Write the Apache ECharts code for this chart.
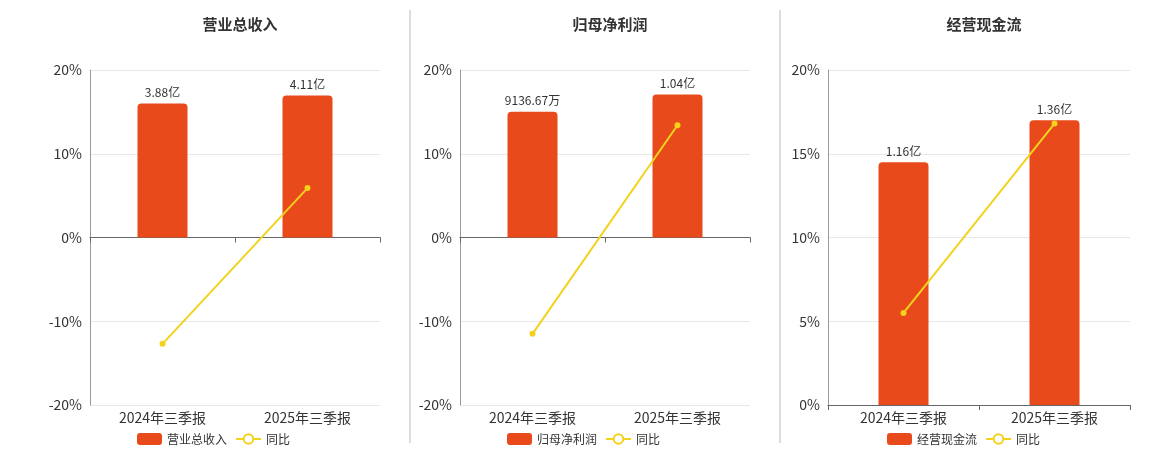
<!DOCTYPE html>
<html><head><meta charset="utf-8">
<script src="https://cdn.jsdelivr.net/npm/echarts@6/dist/echarts.min.js"></script>
<style>body{margin:0}#c{width:1160px;height:450px}</style></head>
<body><div id="c"></div>
<script>
const categories = ['2024年三季报','2025年三季报'];
const titles = ['营业总收入','归母净利润','经营现金流'];
const barValues = [[3.88,4.11],[0.913667,1.04],[1.16,1.36]];
const barLabels = [['3.88亿','4.11亿'],['9136.67万','1.04亿'],['1.16亿','1.36亿']];
const yoyValues = [[-12.7,5.9],[-11.5,13.4],[5.5,16.8]];
const yRanges = [[-20,20,10],[-20,20,10],[0,20,5]];
const barRanges = [[-4.85,4.85],[-1.218,1.218],[0,1.6]];
const lefts=[90,460,828], rights=[780,410,30];
const font='"Noto Sans CJK SC", sans-serif';
const opt={title:[],grid:[],xAxis:[],yAxis:[],series:[],legend:[],graphic:[]};
for(let i=0;i<3;i++){
  const cx=[235,605,979][i];
  opt.title.push({text:titles[i],left:cx,top:12,textAlign:'center',textStyle:{fontSize:15,fontWeight:'bold',color:'#333',fontFamily:font}});
  opt.grid.push({left:lefts[i],right:rights[i],top:70,bottom:45,containLabel:false});
  opt.xAxis.push({type:'category',gridIndex:i,data:categories,axisTick:{show:true,alignWithLabel:false},
    axisLine:{lineStyle:{color:'#666'}},axisLabel:{fontSize:14,color:'#333',fontFamily:font,margin:6}});
  const r=yRanges[i];
  opt.yAxis.push({type:'value',gridIndex:i,min:r[0],max:r[1],interval:r[2],
    axisLabel:{formatter:'{value}%',fontSize:14,color:'#333',fontFamily:font},
    axisLine:{show:true,lineStyle:{color:'#999'}},splitLine:{lineStyle:{color:'#e8e8e8'}}});
  opt.yAxis.push({type:'value',gridIndex:i,min:barRanges[i][0],max:barRanges[i][1],show:false,splitLine:{show:false}});
  opt.series.push({name:titles[i],type:'bar',xAxisIndex:i,yAxisIndex:2*i+1,data:barValues[i],barWidth:50,
    itemStyle:{color:'#E84A1B',borderRadius:[4,4,0,0]},
    label:{show:true,position:'top',fontSize:12,color:'#333',fontFamily:font,formatter:p=>barLabels[i][p.dataIndex]}});
  opt.series.push({name:'同比',type:'line',xAxisIndex:i,yAxisIndex:2*i,data:yoyValues[i],symbol:'circle',symbolSize:6,
    lineStyle:{color:'#F2D21B',width:2},itemStyle:{color:'#F2D21B'},z:5});
  opt.legend.push({data:[titles[i],'同比'],left:cx,top:428,orient:'horizontal',textStyle:{fontSize:12,color:'#333',fontFamily:font},
    itemWidth:25,itemHeight:12,formatter:n=>n,
    ...(i===0?{left:132}:i===1?{left:502}:{left:882})});
}
opt.legend.forEach((l,i)=>{l.data=[{name:titles[i],itemStyle:{color:'#E84A1B'}},{name:'同比',itemStyle:{color:'#fff',borderColor:'#F2D21B',borderWidth:2},lineStyle:{color:'#F2D21B'}}];});
opt.graphic=[{type:'line',shape:{x1:410,y1:10,x2:410,y2:443},style:{stroke:'#bbb',lineWidth:1}},
             {type:'line',shape:{x1:780,y1:10,x2:780,y2:443},style:{stroke:'#bbb',lineWidth:1}}];
const ch=echarts.init(document.getElementById('c'));
ch.setOption(opt);
</script></body></html>
